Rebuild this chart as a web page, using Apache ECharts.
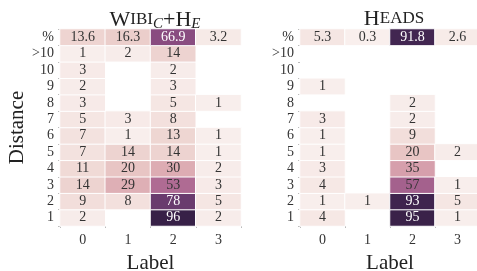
<!DOCTYPE html>
<html>
<head>
<meta charset="utf-8">
<script src="https://cdn.jsdelivr.net/npm/echarts@6/dist/echarts.min.js"></script>
<style>
  html, body { margin: 0; padding: 0; background: #fff; }
  #chart { width: 477px; height: 271px; }
</style>
</head>
<body>
<div id="chart"></div>
<script>
// columns (Label) and rows (Distance), rows listed bottom to top
const labels = ['0', '1', '2', '3']
const distances = ['1', '2', '3', '4', '5', '6', '7', '8', '9', '10', '>10', '%']

// left panel: WiBi_C+H_E, one array per row (bottom to top), null = empty cell
const wibiRows = [
  [2, null, 96, 2],
  [9, 8, 78, 5],
  [14, 29, 53, 3],
  [11, 20, 30, 2],
  [7, 14, 14, 1],
  [7, 1, 13, 1],
  [5, 3, 8, null],
  [3, null, 5, 1],
  [2, null, 3, null],
  [3, null, 2, null],
  [1, 2, 14, null],
  [13.6, 16.3, 66.9, 3.2]
]

// right panel: Heads
const headsRows = [
  [4, null, 95, 1],
  [1, 1, 93, 5],
  [4, null, 57, 1],
  [3, null, 35, null],
  [1, null, 20, 2],
  [1, null, 9, null],
  [3, null, 2, null],
  [null, null, 2, null],
  [1, null, null, null],
  [null, null, null, null],
  [null, null, null, null],
  [5.3, 0.3, 91.8, 2.6]
]

const palette = ['#f9f0ee', '#f0dad6', '#e6c0bf', '#d9a4ae', '#c5839f', '#a8648f', '#8a4c80', '#6a3b6e', '#4a2a58', '#2d1b3d']
const serif = '"Liberation Serif", "DejaVu Serif", serif'

function toCells(rows) {
  const out = []
  rows.forEach((row, y) => {
    row.forEach((v, x) => {
      if (v === null) return
      out.push({
        value: [x, y, v],
        label: { color: v > 60 ? '#ffffff' : '#333333' }
      })
    })
  })
  return out
}

const chart = echarts.init(document.getElementById('chart'))

const xAxisBase = {
  type: 'category',
  data: labels,
  name: 'Label',
  nameLocation: 'middle',
  nameGap: 27,
  nameTextStyle: { fontFamily: serif, fontSize: 21, color: '#222' },
  axisLine: { show: false },
  axisTick: { show: true, length: 2, lineStyle: { color: '#bbb' } },
  axisLabel: { fontFamily: serif, fontSize: 14, color: '#333', margin: 7, interval: 0 },
  splitLine: { show: false }
}

const yAxisBase = {
  type: 'category',
  data: distances,
  axisLine: { show: false },
  axisTick: { show: true, length: 2, lineStyle: { color: '#bbb' } },
  axisLabel: { fontFamily: serif, fontSize: 14, color: '#333', margin: 6, interval: 0 },
  splitLine: { show: false }
}

const seriesBase = {
  type: 'heatmap',
  label: { show: true, fontFamily: serif, fontSize: 14 },
  itemStyle: { borderColor: '#fff', borderWidth: 1 },
  emphasis: { disabled: true }
}

chart.setOption({
  animation: false,
  title: [
    {
      left: 150, top: 3, textAlign: 'center',
      text: '{b|W}{s|IBI}{sub|C}{b|+H}{sub|E}',
      textStyle: {
        fontWeight: 'normal',
        rich: {
          b: { fontFamily: serif, fontSize: 22, fontWeight: 'normal', color: '#222' },
          s: { fontFamily: serif, fontSize: 17, fontWeight: 'normal', color: '#222' },
          sub: { fontFamily: serif, fontSize: 15, fontStyle: 'italic', fontWeight: 'normal', color: '#222', padding: [9, 0, 0, 0] }
        }
      }
    },
    {
      left: 389, top: 3, textAlign: 'center',
      text: '{b|H}{s|EADS}',
      textStyle: {
        fontWeight: 'normal',
        rich: {
          b: { fontFamily: serif, fontSize: 22, fontWeight: 'normal', color: '#222' },
          s: { fontFamily: serif, fontSize: 17, fontWeight: 'normal', color: '#222' }
        }
      }
    }
  ],
  grid: [
    { left: 60, top: 29, width: 181, height: 197, outerBoundsMode: 'none' },
    { left: 300, top: 29, width: 180, height: 197, outerBoundsMode: 'none' }
  ],
  xAxis: [
    Object.assign({}, xAxisBase, { gridIndex: 0 }),
    Object.assign({}, xAxisBase, { gridIndex: 1 })
  ],
  yAxis: [
    Object.assign({}, yAxisBase, {
      gridIndex: 0,
      name: 'Distance',
      nameLocation: 'middle',
      nameGap: 29,
      nameTextStyle: { fontFamily: serif, fontSize: 21, color: '#222' }
    }),
    Object.assign({}, yAxisBase, { gridIndex: 1 })
  ],
  visualMap: {
    show: false,
    type: 'continuous',
    min: 0,
    max: 100,
    dimension: 2,
    seriesIndex: [0, 1],
    inRange: { color: palette }
  },
  series: [
    Object.assign({}, seriesBase, { xAxisIndex: 0, yAxisIndex: 0, data: toCells(wibiRows) }),
    Object.assign({}, seriesBase, { xAxisIndex: 1, yAxisIndex: 1, data: toCells(headsRows) })
  ]
})
</script>
</body>
</html>
